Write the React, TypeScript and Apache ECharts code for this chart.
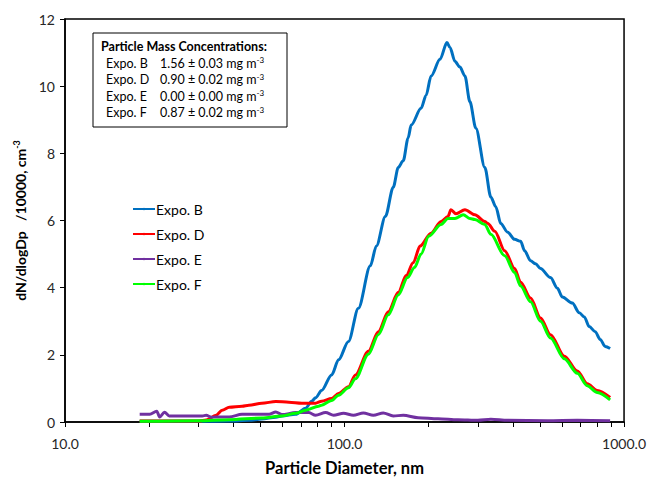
import { useEffect, useRef } from "react";
import * as echarts from "echarts";

const seriesNames = ["Expo. B", "Expo. D", "Expo. E", "Expo. F"];
const seriesColors = ["#0070C0", "#FF0000", "#7030A0", "#00FF00"];

const expoB: [number, number][] = [
  [18.5, 0.02], [25, 0.02], [30.2, 0.02], [38.7, 0.03], [45.5, 0.05],
  [50.6, 0.09], [56.8, 0.14], [59.7, 0.18], [66.9, 0.23], [72.6, 0.41],
  [76.3, 0.62], [78.8, 0.72], [82.8, 0.94], [89.9, 1.4], [95.2, 1.85],
  [103.3, 2.4], [112.1, 3.39], [123.7, 4.65], [130.0, 5.24], [140.0, 6.12],
  [149.4, 6.99], [155.7, 7.58], [162.2, 7.78], [168.9, 8.46], [173.1, 8.84],
  [187.9, 9.34], [195.7, 9.72], [204.0, 10.3], [219.6, 10.8], [232.5, 11.3],
  [238.4, 11.15], [248.3, 10.74], [258.7, 10.57], [269.6, 10.3], [280.8, 9.54],
  [295.0, 8.75], [317.6, 7.58], [333.7, 6.7], [347.6, 6.41], [362.2, 5.91],
  [383.4, 5.65], [406.0, 5.44], [426.6, 5.38], [440.7, 5.1], [463.0, 4.8],
  [482.4, 4.71], [502.5, 4.57], [545.6, 4.3], [577.5, 3.98], [601.7, 3.72],
  [653.1, 3.54], [691.7, 3.25], [720.6, 3.13], [750.7, 2.84], [788.6, 2.69],
  [821.5, 2.46], [855.9, 2.25], [891.6, 2.19],
];

const expoD: [number, number][] = [
  [18.5, 0.03], [25, 0.03], [30.2, 0.03], [32.0, 0.06], [34.7, 0.2],
  [36.5, 0.35], [38.7, 0.44], [43.0, 0.47], [45.5, 0.5], [50.6, 0.56],
  [56.8, 0.61], [63.2, 0.59], [70.3, 0.56], [78.8, 0.56], [82.8, 0.62],
  [89.9, 0.7], [95.2, 0.85], [103.3, 1.05], [109.4, 1.4], [121.7, 2.11],
  [132.1, 2.69], [143.4, 3.28], [155.7, 3.86], [166.2, 4.36], [176.0, 4.74],
  [186.4, 5.24], [204.0, 5.62], [221.4, 5.97], [234.5, 6.12], [240.3, 6.32],
  [250.3, 6.2], [269.6, 6.32], [292.6, 6.17], [317.6, 5.97], [325.5, 5.91],
  [344.8, 5.68], [374.1, 5.1], [406.0, 4.57], [426.6, 4.16], [463.0, 3.69],
  [502.5, 3.1], [545.6, 2.6], [611.6, 1.96], [680.4, 1.52], [738.5, 1.14],
  [801.6, 0.94], [891.6, 0.73],
];

const expoE: [number, number][] = [
  [18.5, 0.23], [20.1, 0.23], [21.3, 0.32], [21.8, 0.15], [22.7, 0.29],
  [23.6, 0.18], [25.0, 0.18], [27.9, 0.18], [31.0, 0.18], [32.0, 0.2],
  [33.4, 0.14], [34.7, 0.15], [38.7, 0.15], [43.0, 0.23], [48.1, 0.23],
  [53.7, 0.23], [56.8, 0.3], [59.7, 0.22], [66.9, 0.28], [74.5, 0.28],
  [78.8, 0.2], [85.6, 0.28], [91.4, 0.2], [99.2, 0.26], [107.6, 0.2],
  [116.8, 0.27], [126.8, 0.2], [137.6, 0.27], [149.4, 0.18], [162.2, 0.2],
  [183.4, 0.13], [216.0, 0.1], [254.5, 0.07], [299.9, 0.05], [333.7, 0.08],
  [383.4, 0.05], [532.1, 0.04], [680.4, 0.05], [891.6, 0.04],
];

const expoF: [number, number][] = [
  [18.5, 0.02], [30, 0.04], [38.7, 0.07], [50.6, 0.12], [59.7, 0.18],
  [66.9, 0.26], [72.6, 0.35], [80.8, 0.47], [82.8, 0.5], [89.9, 0.64],
  [95.2, 0.8], [103.3, 1.02], [109.4, 1.29], [121.7, 2.02], [132.1, 2.6],
  [143.4, 3.19], [155.7, 3.78], [168.0, 4.3], [178.0, 4.6], [187.9, 5.0],
  [200.0, 5.53], [221.4, 5.88], [234.5, 6.06], [248.3, 6.06], [266.0, 6.17],
  [281.0, 6.06], [292.6, 6.03], [317.6, 5.88], [333.7, 5.59], [374.1, 4.95],
  [406.0, 4.45], [426.6, 4.05], [463.0, 3.58], [502.5, 3.0], [545.6, 2.5],
  [611.6, 1.88], [680.4, 1.45], [738.5, 1.08], [801.6, 0.88], [891.6, 0.66],
];

const seriesData = [expoB, expoD, expoE, expoF];

const xMajorTicks = [10, 100, 1000];
const xMinorTicks = [10, 20, 30, 40, 50, 60, 70, 80, 90, 100, 200, 300, 400, 500, 600, 700, 800, 900, 1000];

const concLabels = ["Expo. B", "Expo. D", "Expo. E", "Expo. F"];
const concValues = ["1.56 ± 0.03", "0.90 ± 0.02", "0.00 ± 0.00", "0.87 ± 0.02"];

const FONT = "Lato";

export default function App() {
  const ref = useRef<HTMLDivElement>(null);
  useEffect(() => {
    const chart = echarts.init(ref.current!, null, { renderer: "svg" });
    const boxTexts: any[] = [];
    concLabels.forEach((lab, i) => {
      const y = 63 + i * 16.5;
      boxTexts.push({
        type: "text",
        x: 106,
        y,
        style: { text: lab, font: `12.5px ${FONT}`, fill: "#000", verticalAlign: "middle" },
      });
      boxTexts.push({
        type: "text",
        x: 160,
        y,
        style: {
          text: `{v|${concValues[i]} mg m}{s|-3}`,
          verticalAlign: "middle",
          rich: {
            v: { fontSize: 12.5, fontFamily: FONT, fill: "#000", color: "#000" },
            s: { fontSize: 8, fontFamily: FONT, fill: "#000", color: "#000", verticalAlign: "top", padding: [0, 0, 6, 0] },
          },
        },
      });
    });
    chart.setOption({
      animation: false,
      backgroundColor: "#fff",
      grid: {
        left: 65,
        right: 22,
        top: 19,
        bottom: 52,
        show: true,
        borderColor: "#000",
        borderWidth: 1.5,
        containLabel: false,
      },
      legend: {
        data: seriesNames,
        orient: "vertical",
        left: 127,
        top: 197,
        itemWidth: 22,
        itemHeight: 3,
        itemGap: 11,
        textStyle: { fontFamily: FONT, fontSize: 14, lineHeight: 14, color: "#000", padding: [0, 0, 0, -4] },
      },
      xAxis: {
        type: "log",
        logBase: 10,
        min: 10,
        max: 1000,
        name: "Particle Diameter, nm",
        nameLocation: "middle",
        nameGap: 37,
        nameTextStyle: { fontFamily: FONT, fontSize: 16.5, fontWeight: "bold", color: "#000" },
        axisLine: { lineStyle: { color: "#000", width: 1.5 } },
        axisTick: { show: true, inside: false, length: 5, lineStyle: { color: "#000" }, customValues: xMinorTicks },
        axisLabel: {
          fontFamily: FONT,
          fontSize: 14,
          color: "#262626",
          margin: 14,
          customValues: xMajorTicks,
          formatter: (v: number) => Number(v).toFixed(1),
        },
        splitLine: { show: false },
        minorTick: { show: false },
      },
      yAxis: {
        type: "value",
        min: 0,
        max: 12,
        interval: 2,
        name: "{a|dN/dlogDp   /10000, cm}{s|-3}",
        nameLocation: "middle",
        nameGap: 33,
        nameTextStyle: {
          fontFamily: FONT,
          fontSize: 14,
          fontWeight: "bold",
          color: "#000",
          rich: {
            a: { fontFamily: FONT, fontSize: 14, fontWeight: "bold", color: "#000" },
            s: { fontFamily: FONT, fontSize: 9, fontWeight: "bold", color: "#000", verticalAlign: "top", padding: [0, 0, 8, 0] },
          },
        },
        axisLine: { show: true, lineStyle: { color: "#000", width: 1.5 } },
        axisTick: { show: true, inside: false, length: 5, lineStyle: { color: "#000" } },
        axisLabel: { fontFamily: FONT, fontSize: 14, color: "#262626", margin: 10 },
        splitLine: { show: false },
      },
      series: seriesNames.map((name, i) => ({
        name,
        type: "line",
        data: seriesData[i],
        symbol: "none",
        legendIcon: "rect",
        smooth: 0.3,
        smoothMonotone: "x",
        lineStyle: { color: seriesColors[i], width: 3 },
        itemStyle: { color: seriesColors[i] },
        z: 2 + i,
      })),
      graphic: [
        {
          type: "rect",
          shape: { x: 93, y: 33, width: 194, height: 94 },
          style: { fill: "#fff", stroke: "#000", lineWidth: 1 },
          z: 100,
        },
        {
          type: "text",
          x: 101,
          y: 46,
          z: 101,
          style: { text: "Particle Mass Concentrations:", font: `bold 12.5px ${FONT}`, fill: "#000", verticalAlign: "middle" },
        },
        ...boxTexts.map((t) => ({ ...t, z: 101 })),
      ],
    });
    return () => chart.dispose();
  }, []);
  return <div ref={ref} style={{ position: "fixed", left: 0, top: 0, width: 649, height: 481 }} />;
}
